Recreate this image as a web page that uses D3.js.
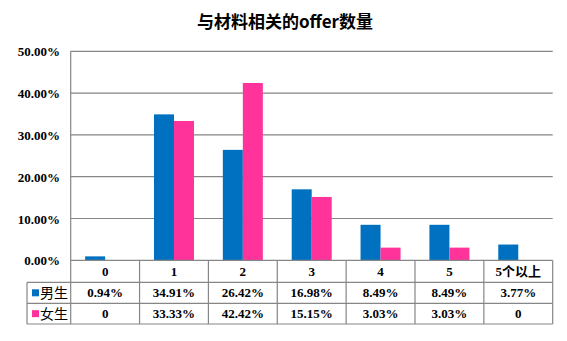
<!DOCTYPE html>
<html><head><meta charset="utf-8">
<script src="https://cdn.jsdelivr.net/npm/d3@7"></script>
<style>body{margin:0;background:#fff}</style>
</head><body>
<svg id="c" width="567" height="341"></svg>
<script>
const categories = ["0","1","2","3","4","5","5个以上"];
const seriesNames = ["男生","女生"];
const maleValues = [0.94,34.91,26.42,16.98,8.49,8.49,3.77];
const femaleValues = [0,33.33,42.42,15.15,3.03,3.03,0];
const maleLabels = ["0.94%","34.91%","26.42%","16.98%","8.49%","8.49%","3.77%"];
const femaleLabels = ["0","33.33%","42.42%","15.15%","3.03%","3.03%","0"];
const yTicks = [0,10,20,30,40,50];
const colors = ["#0070C0","#FF3399"];
const title = "与材料相关的offer数量";

const svg = d3.select("#c");
const L = 70.7, R = 552.7, T = 51.3, B = 260.3;
const x = d3.scaleBand().domain(categories).range([L,R]);
const y = d3.scaleLinear().domain([0,50]).range([B,T]);
const sub = d3.scaleBand().domain([0,1]).range([0,40]);
const grey = "#868686";
const serif = "'Liberation Serif','Times New Roman',serif";
const cjk = "'Noto Sans CJK SC',sans-serif";

svg.append("text").attr("x",285).attr("y",28).attr("text-anchor","middle")
  .attr("font-family",cjk).attr("font-weight","bold").attr("font-size",17).text(title);

// gridlines
svg.append("g").selectAll("line").data(yTicks.filter(d=>d>0)).join("line")
  .attr("x1",L).attr("x2",R).attr("y1",d=>y(d)).attr("y2",d=>y(d))
  .attr("stroke",grey).attr("stroke-width",1.2);
// y labels
svg.append("g").selectAll("text").data(yTicks).join("text")
  .attr("x",60).attr("y",d=>y(d)+5).attr("text-anchor","end")
  .attr("font-family",serif).attr("font-weight","bold").attr("font-size",13)
  .text(d=>d.toFixed(2)+"%");

// bars
const data = [maleValues,femaleValues];
data.forEach((vals,si)=>{
  svg.append("g").selectAll("rect").data(categories).join("rect")
    .attr("x",(c)=>x(c)+x.bandwidth()/2-20+sub(si))
    .attr("width",sub.bandwidth())
    .attr("y",(c,i)=>y(vals[i]))
    .attr("height",(c,i)=>B-y(vals[i]))
    .attr("fill",colors[si]);
});

// table
const rowH = [B, 282.3, 303.3, 324];
const tg = svg.append("g");
tg.append("line").attr("x1",L).attr("x2",R).attr("y1",B).attr("y2",B).attr("stroke",grey).attr("stroke-width",1.2);
[rowH[1],rowH[2],rowH[3]].forEach(yy=>{
  tg.append("line").attr("x1",27).attr("x2",R).attr("y1",yy).attr("y2",yy).attr("stroke",grey).attr("stroke-width",1.2);
});
tg.append("line").attr("x1",L).attr("x2",L).attr("y1",T).attr("y2",rowH[3]).attr("stroke",grey).attr("stroke-width",1.2);
tg.append("line").attr("x1",27).attr("x2",27).attr("y1",rowH[1]).attr("y2",rowH[3]).attr("stroke",grey).attr("stroke-width",1.2);
categories.forEach(c=>{
  tg.append("line").attr("x1",x(c)+x.bandwidth()).attr("x2",x(c)+x.bandwidth())
    .attr("y1",B).attr("y2",rowH[3]).attr("stroke",grey).attr("stroke-width",1.2);
});
tg.selectAll("text.h").data(categories).join("text").attr("class","h")
  .attr("x",c=>x(c)+x.bandwidth()/2).attr("y",275.5).attr("text-anchor","middle")
  .attr("font-family","'Liberation Serif','Noto Sans CJK SC',serif")
  .attr("font-weight","bold").attr("font-size",13).text(c=>c);
[maleLabels,femaleLabels].forEach((labs,si)=>{
  const cy = (rowH[si+1]+rowH[si+2])/2;
  tg.append("g").selectAll("text").data(labs).join("text")
    .attr("x",(d,i)=>x(categories[i])+x.bandwidth()/2).attr("y",cy+4.5)
    .attr("text-anchor","middle").attr("font-family",serif).attr("font-weight","bold")
    .attr("font-size",13).text(d=>d);
  tg.append("rect").attr("x",32).attr("y",cy-3.5).attr("width",7).attr("height",7).attr("fill",colors[si]);
  tg.append("text").attr("x",40).attr("y",cy+5).attr("font-family",cjk).attr("font-size",14)
    .text(seriesNames[si]);
});
</script>
</body></html>
